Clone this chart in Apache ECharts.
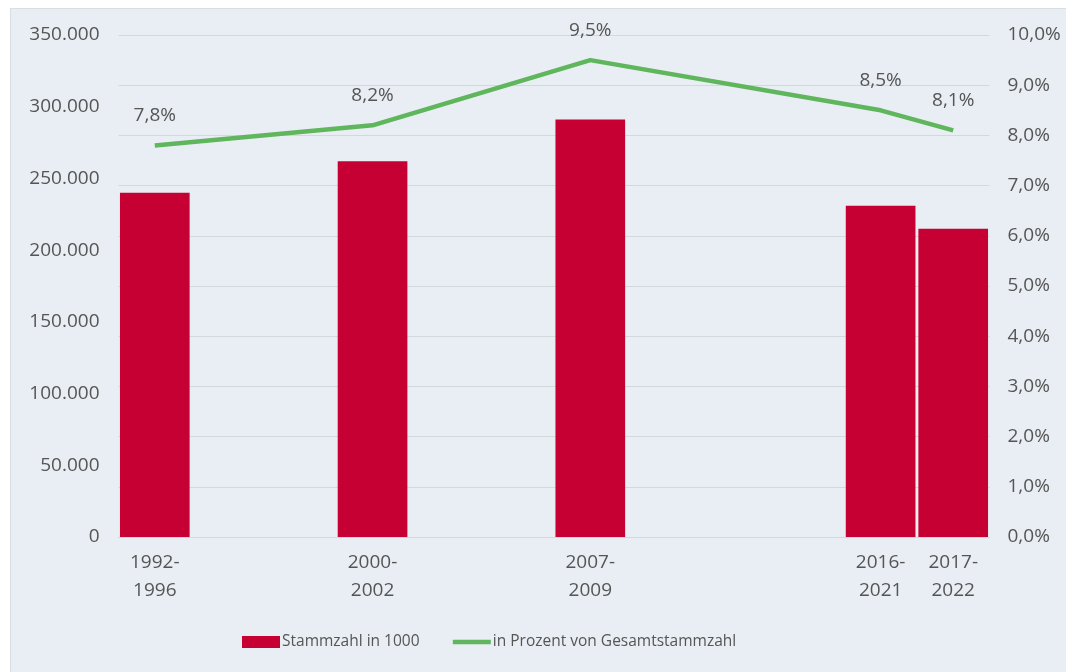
<!DOCTYPE html>
<html>
<head>
<meta charset="utf-8">
<script src="https://cdn.jsdelivr.net/npm/echarts@6/dist/echarts.min.js"></script>
<style>
  html, body { margin: 0; padding: 0; background: #ffffff; }
  #wrap { position: relative; width: 1066px; height: 672px; overflow: hidden; background: #ffffff; }
  #panel { position: absolute; left: 10px; top: 8px; right: 0; bottom: 0; background: #e9eef4; border-left: 1px solid #d9dee3; border-top: 1px solid #d9dee3; }
  #chart { position: absolute; left: 0; top: 0; width: 1066px; height: 672px; }
</style>
</head>
<body>
<div id="wrap">
  <div id="panel"></div>
  <div id="chart"></div>
</div>
<script>
// Category slots (blank slots are empty categories, as in the original chart)
const categories = ['1992-\n1996', '', '', '2000-\n2002', '', '', '2007-\n2009', '', '', '', '2016-\n2021', '2017-\n2022'];
// Stammzahl in 1000
const stammzahl = [240000, null, null, 262000, null, null, 291000, null, null, null, 231000, 215000];
// in Prozent von Gesamtstammzahl
const prozent = [7.8, null, null, 8.2, null, null, 9.5, null, null, null, 8.5, 8.1];
// Axis ticks
const leftTicks = { min: 0, max: 350000, interval: 50000 };
const rightTicks = { min: 0, max: 10, interval: 1 };
const seriesNames = ['Stammzahl in 1000', 'in Prozent von Gesamtstammzahl'];

const textColor = '#555555';
const font = 'Open Sans';
const green = '#5fb65c';

function fmtThousands(v) {
  return String(Math.round(v)).replace(/\B(?=(\d{3})+(?!\d))/g, '.');
}
function fmtPct(v, d) {
  return v.toFixed(d).replace('.', ',') + '%';
}

const chart = echarts.init(document.getElementById('chart'), null, { renderer: 'canvas' });
chart.setOption({
  backgroundColor: 'transparent',
  animation: false,
  textStyle: { fontFamily: font, color: textColor },
  grid: { left: 118.5, right: 76.5, top: 35, bottom: 135 },
  legend: {
    left: 237,
    top: 629,
    itemWidth: 38,
    itemHeight: 12,
    itemGap: 31,
    textStyle: { fontFamily: font, fontSize: 15.5, color: textColor, padding: [0, 0, 0, -3] },
    data: [
      { name: seriesNames[0], icon: 'rect' },
      { name: seriesNames[1], itemStyle: { opacity: 0 }, lineStyle: { width: 4.5, color: green } }
    ]
  },
  xAxis: {
    type: 'category',
    data: categories,
    axisTick: { show: false },
    axisLine: { show: true, lineStyle: { color: '#d3d8dd', width: 1 } },
    axisLabel: {
      interval: 0,
      margin: 12,
      fontFamily: font,
      fontSize: 19,
      lineHeight: 28,
      color: textColor
    },
    splitLine: { show: false }
  },
  yAxis: [
    {
      type: 'value',
      min: leftTicks.min, max: leftTicks.max, interval: leftTicks.interval,
      axisLine: { show: false },
      axisTick: { show: false },
      splitLine: { show: false },
      axisLabel: {
        margin: 19,
        fontFamily: font, fontSize: 19, color: textColor,
        formatter: v => fmtThousands(v)
      }
    },
    {
      type: 'value',
      min: rightTicks.min, max: rightTicks.max, interval: rightTicks.interval,
      position: 'right',
      axisLine: { show: false },
      axisTick: { show: false },
      splitLine: { show: true, lineStyle: { color: '#d3d8dd', width: 1 } },
      axisLabel: {
        margin: 18,
        fontFamily: font, fontSize: 19, color: textColor,
        formatter: v => fmtPct(v, 1)
      }
    }
  ],
  series: [
    {
      name: seriesNames[0],
      type: 'bar',
      yAxisIndex: 0,
      data: stammzahl,
      barCategoryGap: '4%',
      itemStyle: { color: '#c70033' },
      z: 2
    },
    {
      name: seriesNames[1],
      type: 'line',
      yAxisIndex: 1,
      data: prozent,
      connectNulls: true,
      symbol: 'circle',
      symbolSize: 0.01,
      showSymbol: true,
      lineStyle: { color: green, width: 4.5 },
      itemStyle: { color: green },
      label: {
        show: true,
        position: 'top',
        distance: 20,
        fontFamily: font,
        fontSize: 19,
        color: textColor,
        formatter: p => fmtPct(p.value, 1)
      },
      z: 3
    }
  ]
});
</script>
</body>
</html>
